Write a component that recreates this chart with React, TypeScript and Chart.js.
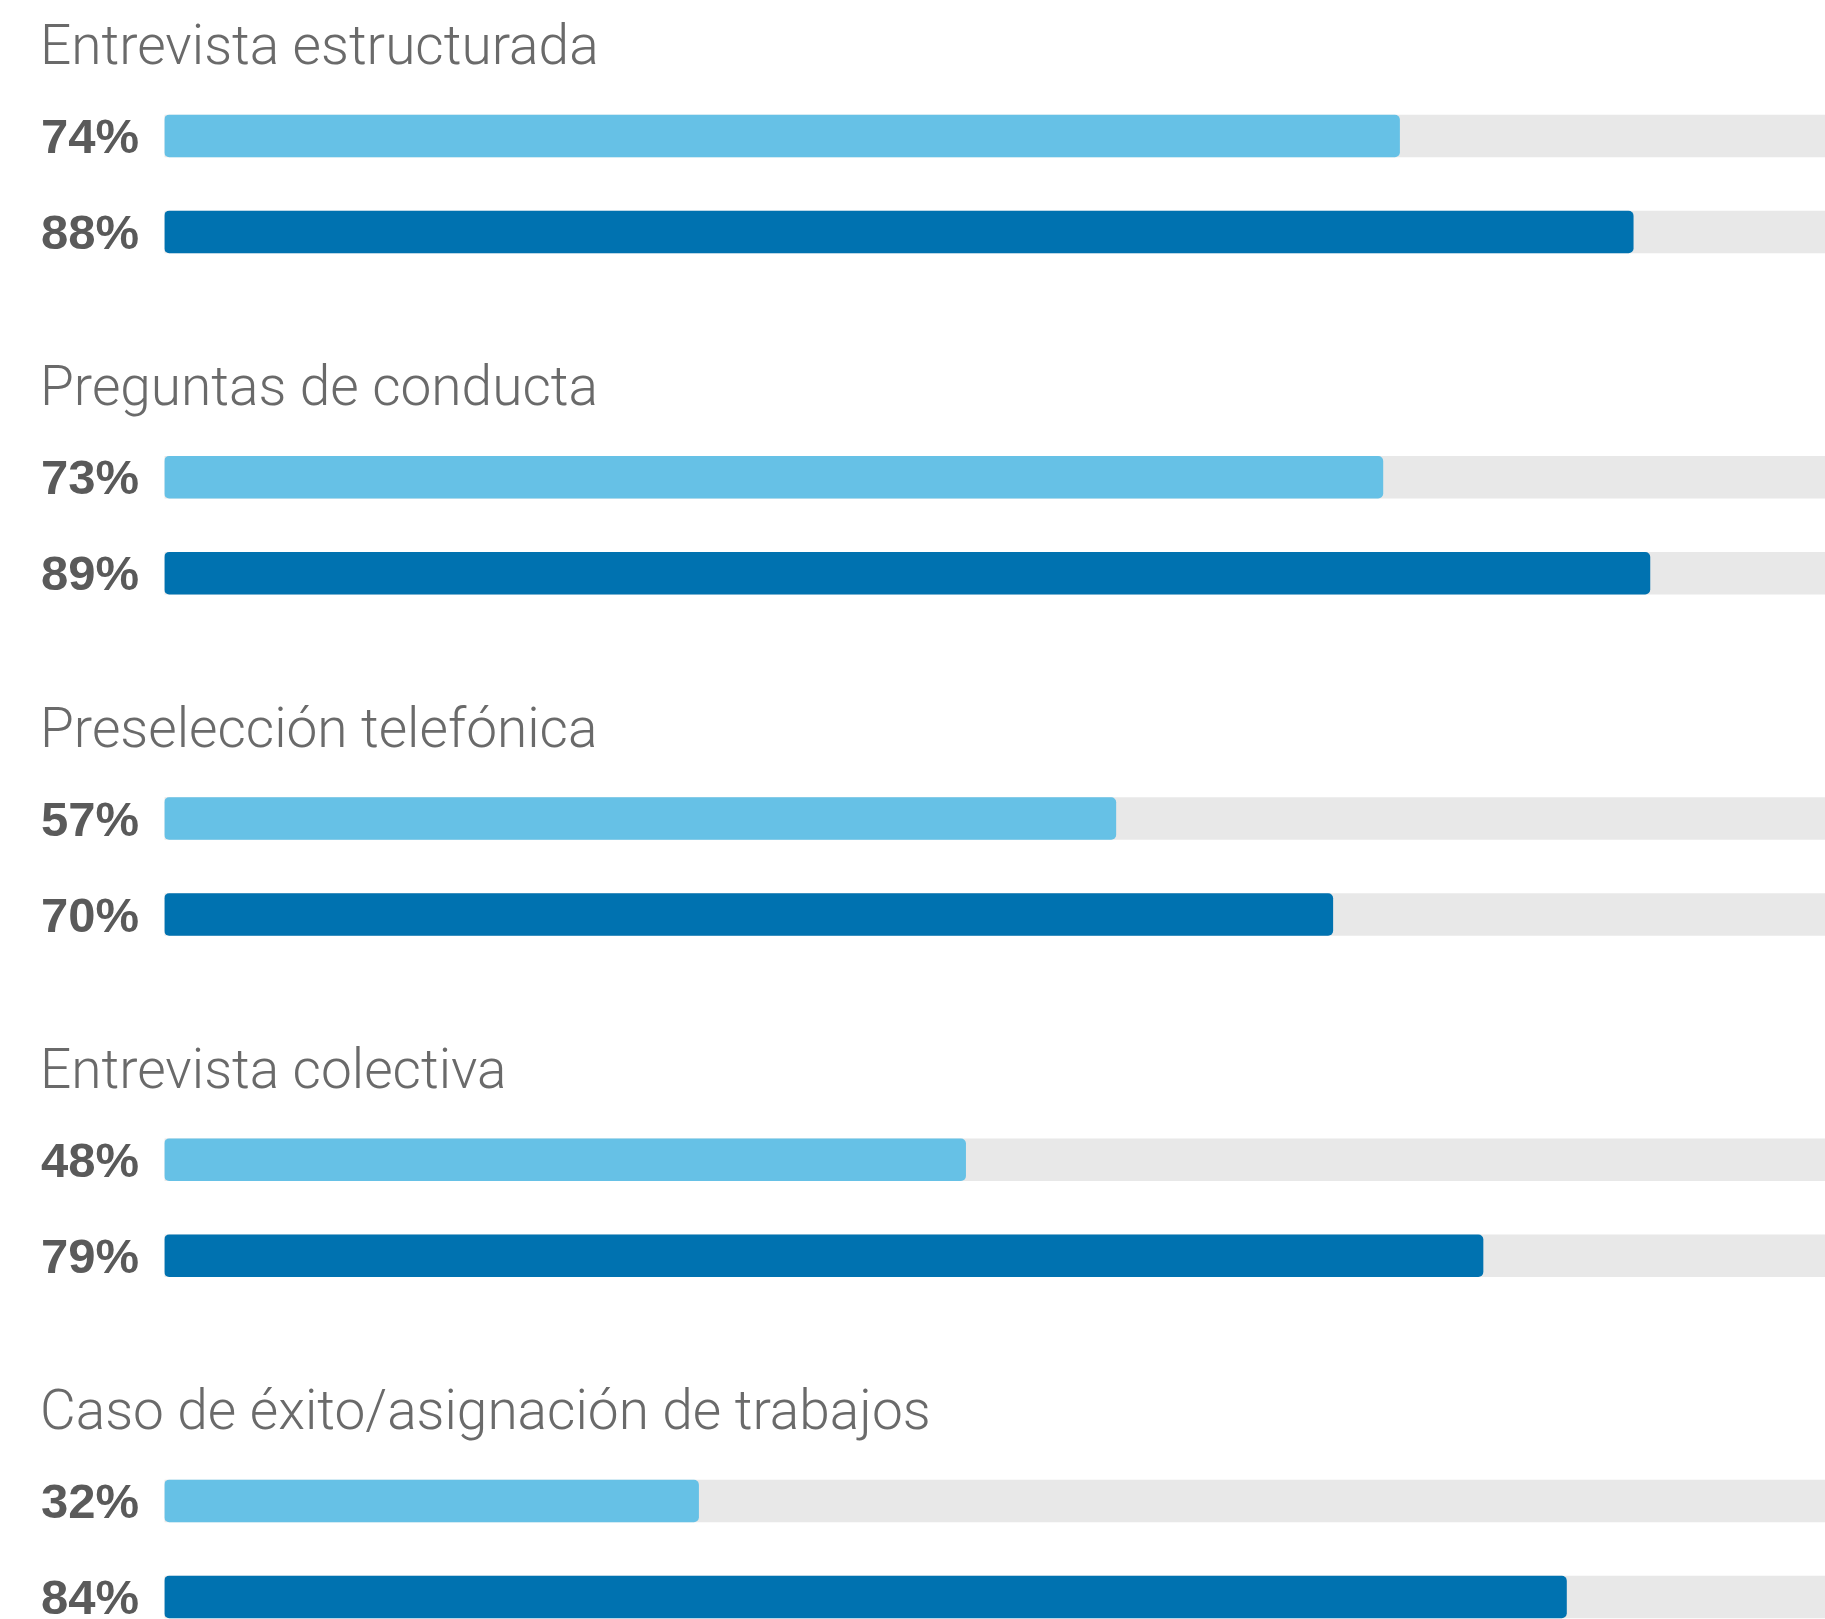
import React, { useEffect, useRef } from "react";
import { Chart, registerables } from "chart.js";

Chart.register(...registerables);

// ---- Data ----
const categories = [
  "Entrevista estructurada",
  "Preguntas de conducta",
  "Preselección telefónica",
  "Entrevista colectiva",
  "Caso de éxito/asignación de trabajos",
];
const seriesLight = [74, 73, 57, 48, 32];
const seriesDark = [88, 89, 70, 79, 84];
const trackValue = 100;

// ---- Layout (pixels / row units) ----
const W = 1825;
const H = 1619;
const ROW_PX = 96; // distance between the two bars of a group
const GROUP_ROWS = 341.25 / ROW_PX; // distance between groups, in rows
const FIRST_CENTER_PX = 136;
const PLOT_LEFT = 164.5;
const PX_PER_100 = 1669;
const BAR_PX = 42;

const COLOR_LIGHT = "#66c1e6";
const COLOR_DARK = "#0072b0";
const COLOR_TRACK = "#e8e8e8";

const rowPos = (g: number, b: number) => g * GROUP_ROWS + b;

const labelsPlugin = {
  id: "groupLabels",
  afterDatasetsDraw(chart: any) {
    const ctx = chart.ctx as CanvasRenderingContext2D;
    const y = chart.scales.y;
    ctx.save();
    ctx.textAlign = "left";
    ctx.textBaseline = "alphabetic";
    categories.forEach((cat, g) => {
      const c0 = y.getPixelForValue(rowPos(g, 0));
      ctx.font = "300 55px Roboto";
      ctx.fillStyle = "#6a6a6a";
      ctx.fillText(cat, 40, c0 - 72);
      [seriesLight[g], seriesDark[g]].forEach((v, b) => {
        const cy = y.getPixelForValue(rowPos(g, b));
        ctx.font = 'bold 49px "Liberation Sans"';
        ctx.fillStyle = "#5a5a5a";
        ctx.fillText(`${v}%`, 41, cy + 17);
      });
    });
    ctx.restore();
  },
};

export default function App() {
  const ref = useRef<HTMLCanvasElement | null>(null);

  useEffect(() => {
    if (!ref.current) return;
    const lightData = seriesLight.map((v, g) => ({ x: v, y: rowPos(g, 0) }));
    const darkData = seriesDark.map((v, g) => ({ x: v, y: rowPos(g, 1) }));
    const trackData = categories.flatMap((_, g) => [
      { x: trackValue, y: rowPos(g, 0) },
      { x: trackValue, y: rowPos(g, 1) },
    ]);
    const xMax = (100 * (W - PLOT_LEFT)) / PX_PER_100;
    const yMin = -FIRST_CENTER_PX / ROW_PX;
    const yMax = (H - FIRST_CENTER_PX) / ROW_PX;

    const chart = new Chart(ref.current, {
      type: "bar",
      data: {
        datasets: [
          {
            label: "Serie 1",
            data: lightData,
            backgroundColor: COLOR_LIGHT,
            borderRadius: 5,
            borderSkipped: false,
            grouped: false,
            barThickness: BAR_PX,
            order: 0,
          } as any,
          {
            label: "Serie 2",
            data: darkData,
            backgroundColor: COLOR_DARK,
            borderRadius: 5,
            borderSkipped: false,
            grouped: false,
            barThickness: BAR_PX,
            order: 0,
          } as any,
          {
            label: "Total",
            data: trackData,
            backgroundColor: COLOR_TRACK,
            borderRadius: 0,
            grouped: false,
            barThickness: BAR_PX,
            order: 5,
          } as any,
        ],
      },
      options: {
        indexAxis: "y",
        animation: false,
        responsive: false,
        events: [],
        layout: { padding: { left: PLOT_LEFT, right: 0, top: 0, bottom: 0 } },
        plugins: { legend: { display: false }, tooltip: { enabled: false } },
        scales: {
          x: { type: "linear", min: 0, max: xMax, display: false, offset: false },
          y: {
            type: "linear",
            min: yMin,
            max: yMax,
            reverse: true,
            display: false,
            offset: false,
            grid: { offset: false },
          },
        },
      },
      plugins: [labelsPlugin],
    });
    return () => chart.destroy();
  }, []);

  return (
    <div
      style={{
        position: "fixed",
        left: 0,
        top: 0,
        width: W,
        height: H,
        overflow: "hidden",
        background: "#ffffff",
      }}
    >
      <canvas ref={ref} width={W} height={H} style={{ display: "block", width: W, height: H }} />
    </div>
  );
}
